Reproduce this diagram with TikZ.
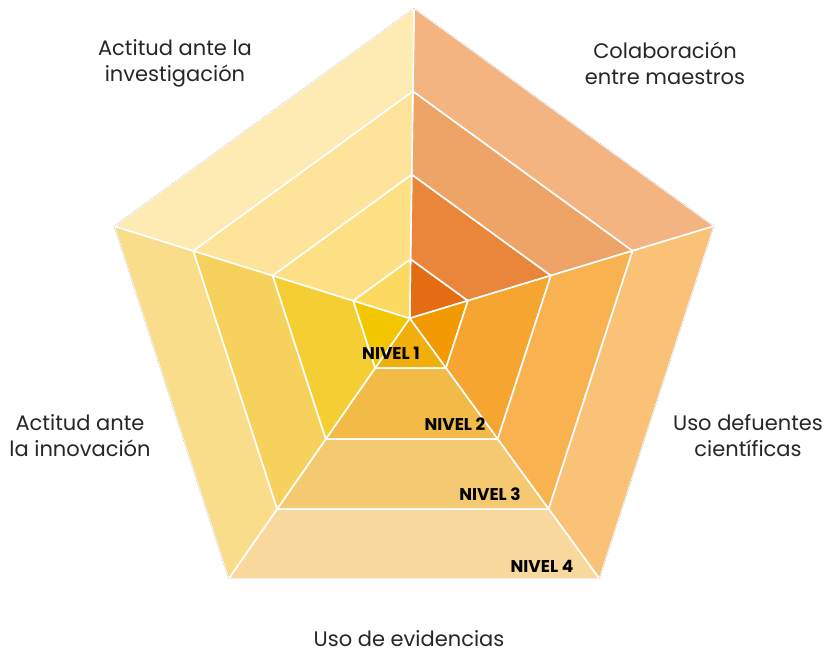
\documentclass[tikz,border=0pt]{standalone}
\usepackage{fontspec}
\usetikzlibrary{calc}
\setmainfont{Poppins}
\definecolor{colA}{HTML}{E46C12}
\definecolor{colB}{HTML}{EA863B}
\definecolor{colC}{HTML}{EFA467}
\definecolor{colD}{HTML}{F3B482}
\definecolor{fueA}{HTML}{F39A00}
\definecolor{fueB}{HTML}{F6A531}
\definecolor{fueC}{HTML}{F8B24F}
\definecolor{fueD}{HTML}{F9C277}
\definecolor{eviA}{HTML}{F0AF0C}
\definecolor{eviB}{HTML}{F2BB48}
\definecolor{eviC}{HTML}{F5C971}
\definecolor{eviD}{HTML}{F9D89E}
\definecolor{innA}{HTML}{F3C700}
\definecolor{innB}{HTML}{F5CE34}
\definecolor{innC}{HTML}{F6D25C}
\definecolor{innD}{HTML}{F9DD8A}
\definecolor{invA}{HTML}{FCDA62}
\definecolor{invB}{HTML}{FDDF84}
\definecolor{invC}{HTML}{FDE49A}
\definecolor{invD}{HTML}{FDEBB3}
\tikzset{
  cell/.style={draw=white,line width=1.6pt,line join=round},
  axislabel/.style={align=center,font=\fontsize{21}{26}\selectfont,text=black!85},
  nivel/.style={font=\fontsize{17}{20}\selectfont\bfseries}
}
\begin{document}
\begin{tikzpicture}[x=1pt,y=1pt]
\useasboundingbox (0,0) rectangle (838,-653);
\coordinate (c0) at (409.7,-318.3);
\coordinate (d1) at (0.0137,0.9832);
\coordinate (d2) at (0.9648,0.2922);
\coordinate (d3) at (0.6015,-0.8258);
\coordinate (d4) at (-0.5741,-0.8258);
\coordinate (d5) at (-0.9374,0.2922);
\foreach \r/\k in {60.3/1,146.3/2,231/3,315.6/4}
  \foreach \j in {1,...,5}
    \coordinate (p\k\j) at ($(c0)+\r*(d\j)$);
% colaboracion entre maestros
\filldraw[cell,fill=colA] (c0) -- (p11) -- (p12) -- cycle;
\filldraw[cell,fill=colB] (p11) -- (p21) -- (p22) -- (p12) -- cycle;
\filldraw[cell,fill=colC] (p21) -- (p31) -- (p32) -- (p22) -- cycle;
\filldraw[cell,fill=colD] (p31) -- (p41) -- (p42) -- (p32) -- cycle;
% uso de fuentes
\filldraw[cell,fill=fueA] (c0) -- (p12) -- (p13) -- cycle;
\filldraw[cell,fill=fueB] (p12) -- (p22) -- (p23) -- (p13) -- cycle;
\filldraw[cell,fill=fueC] (p22) -- (p32) -- (p33) -- (p23) -- cycle;
\filldraw[cell,fill=fueD] (p32) -- (p42) -- (p43) -- (p33) -- cycle;
% uso de evidencias
\filldraw[cell,fill=eviA] (c0) -- (p13) -- (p14) -- cycle;
\filldraw[cell,fill=eviB] (p13) -- (p23) -- (p24) -- (p14) -- cycle;
\filldraw[cell,fill=eviC] (p23) -- (p33) -- (p34) -- (p24) -- cycle;
\filldraw[cell,fill=eviD] (p33) -- (p43) -- (p44) -- (p34) -- cycle;
% actitud ante la innovacion
\filldraw[cell,fill=innA] (c0) -- (p14) -- (p15) -- cycle;
\filldraw[cell,fill=innB] (p14) -- (p24) -- (p25) -- (p15) -- cycle;
\filldraw[cell,fill=innC] (p24) -- (p34) -- (p35) -- (p25) -- cycle;
\filldraw[cell,fill=innD] (p34) -- (p44) -- (p45) -- (p35) -- cycle;
% actitud ante la investigacion
\filldraw[cell,fill=invA] (c0) -- (p15) -- (p11) -- cycle;
\filldraw[cell,fill=invB] (p15) -- (p25) -- (p21) -- (p11) -- cycle;
\filldraw[cell,fill=invC] (p25) -- (p35) -- (p31) -- (p21) -- cycle;
\filldraw[cell,fill=invD] (p35) -- (p45) -- (p41) -- (p31) -- cycle;
% outer border
\draw[black!25,line width=0.5pt,dash pattern=on 1pt off 1pt]
  (p41) -- (p42) -- (p43) -- (p44) -- (p45) -- cycle;
% levels
\node[nivel] (n1) at (391,-353) {NIVEL 1};
\node[nivel] (n2) at (455,-424) {NIVEL 2};
\node[nivel] (n3) at (490,-494) {NIVEL 3};
\node[nivel] (n4) at (542,-566) {NIVEL 4};
% axes
\node[axislabel] (inv) at (175,-63) {Actitud ante la\\investigación};
\node[axislabel] (col) at (665,-63) {Colaboración\\entre maestros};
\node[axislabel] (fue) at (748,-436) {Uso defuentes\\científicas};
\node[axislabel] (inn) at (80,-436) {Actitud ante\\la innovación};
\node[axislabel] (evi) at (409,-639) {Uso de evidencias};
\end{tikzpicture}
\end{document}
